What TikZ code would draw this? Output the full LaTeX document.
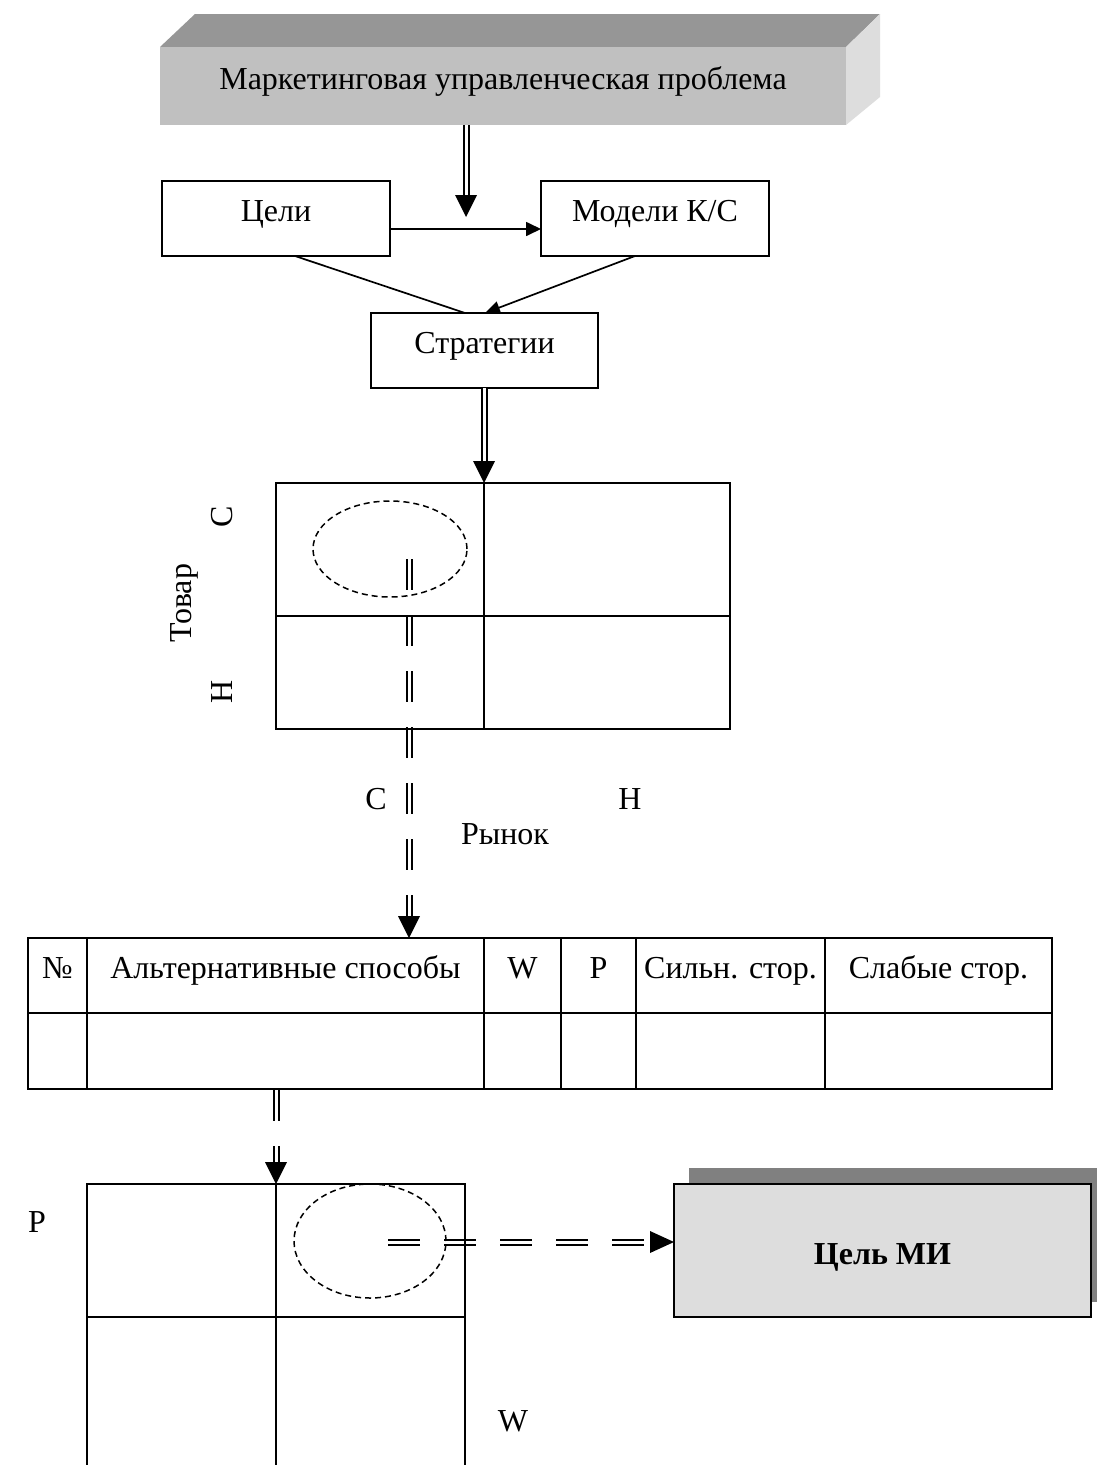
\documentclass[tikz,border=0pt]{standalone}
\usepackage{fontspec}
\setmainfont{Liberation Serif}
\usetikzlibrary{arrows.meta,calc,shapes.geometric}
\definecolor{topface}{HTML}{969696}
\definecolor{frontface}{HTML}{C0C0C0}
\definecolor{sideface}{HTML}{DDDDDD}
\definecolor{shadowc}{HTML}{808080}
\newcommand\mydowntip[1]{\fill (#1) -- ++(-11,-22) -- ++(22,0) -- cycle;}
\newcommand\myrighttip[1]{\fill (#1) -- ++(-24,-11) -- ++(0,22) -- cycle;}
\begin{document}
\begin{tikzpicture}[x=1pt,y=-1pt,
  txt/.style={font=\fontsize{32}{38}\selectfont},
  cell/.style={draw,line width=1.7pt,inner sep=0pt,outer sep=0pt,anchor=north west,txt,text height=16pt,text depth=10pt},
  dbl/.style={double,double distance=3pt,line width=2pt},
  dbldash/.style={dbl,dash pattern=on 31pt off 25pt},
  dbldashh/.style={dbl,dash pattern=on 32pt off 24pt},
  oval/.style={ellipse,draw,line width=1.5pt,dash pattern=on 6pt off 4pt,inner sep=0pt},
  thin/.style={line width=1.7pt}]
\useasboundingbox (0,0) rectangle (1097,1465);
\fill[white] (0,0) rectangle (1097,1465);

% connector start/end coordinates
\coordinate (t1) at (466,217);
\coordinate (t2) at (484,483);
\coordinate (s1) at (409,559);
\coordinate (t3) at (409,938);
\coordinate (s3) at (276,1090);
\coordinate (t4) at (276,1184);
\coordinate (s2) at (388,1242);
\coordinate (t5) at (674,1242);

% dashed double arrows drawn first (borders cross over them)
\draw[dbldash] (s1) -- ($(t3)+(0,-21)$);
\mydowntip{t3}
\draw[dbldash] (s3) -- ($(t4)+(0,-21)$);
\mydowntip{t4}
\draw[dbldashh] (s2) -- ($(t5)+(-22,0)$);

% top 3D box
\fill[topface] (160,47) -- (195,14) -- (880,14) -- (846,47) -- cycle;
\fill[sideface] (846,47) -- (880,14) -- (880,97) -- (846,125) -- cycle;
\node[fill=frontface,inner sep=0pt,outer sep=0pt,anchor=north west,minimum width=686pt,minimum height=78pt,txt,text height=16pt,text depth=10pt] (prob) at (160,47) {Маркетинговая управленческая проблема};

% goals, models, strategies
\node[cell,minimum width=228pt,minimum height=75pt] (celi) at (162,181) {Цели};
\node[cell,minimum width=228pt,minimum height=75pt] (model) at (541,181) {Модели К/С};
\node[cell,minimum width=227pt,minimum height=75pt] (strat) at (371,313) {Стратегии};

\draw[dbl] (prob.south -| t1) -- ($(t1)+(0,-21)$);
\mydowntip{t1}

\draw[thin,-{Triangle[length=15pt,width=14pt]}] (celi.east |- 0,229) -- (model.west |- 0,229);
\draw[thin] (295,256) -- (465,313);
\draw[thin,-{Triangle[length=15pt,width=13pt]}] (635,256) -- (485,313);

\draw[dbl] (strat.south -| t2) -- ($(t2)+(0,-21)$);
\mydowntip{t2}

% matrix 1
\node[cell,minimum width=208pt,minimum height=133pt] (m1a) at (276,483) {};
\node[cell,minimum width=246pt,minimum height=133pt] (m1b) at (484,483) {};
\node[cell,minimum width=208pt,minimum height=113pt] (m1c) at (276,616) {};
\node[cell,minimum width=246pt,minimum height=113pt] (m1d) at (484,616) {};

\node[oval,minimum width=154pt,minimum height=96pt] (e1) at (390,549) {};

\node[txt,rotate=90] (lc1) at (222,517) {С};
\node[txt,rotate=90] (lt) at (184,603) {Товар};
\node[txt,rotate=90] (lh1) at (222,692) {Н};
\node[txt] (lc2) at (376,799) {С};
\node[txt] (lh2) at (630,799) {Н};
\node[txt] (lr) at (505,834) {Рынок};

% table
\node[cell,minimum width=59pt,minimum height=75pt] (h1) at (28,938) {№};
\node[cell,minimum width=397pt,minimum height=75pt] (h2) at (87,938) {Альтернативные способы};
\node[cell,minimum width=77pt,minimum height=75pt] (h3) at (484,938) {W};
\node[cell,minimum width=75pt,minimum height=75pt] (h4) at (561,938) {P};
\node[cell,minimum width=189pt,minimum height=75pt] (h5) at (636,938) {Сильн. стор.};
\node[cell,minimum width=227pt,minimum height=75pt] (h6) at (825,938) {Слабые стор.};
\node[cell,minimum width=59pt,minimum height=76pt] (r1) at (28,1013) {};
\node[cell,minimum width=397pt,minimum height=76pt] (r2) at (87,1013) {};
\node[cell,minimum width=77pt,minimum height=76pt] (r3) at (484,1013) {};
\node[cell,minimum width=75pt,minimum height=76pt] (r4) at (561,1013) {};
\node[cell,minimum width=189pt,minimum height=76pt] (r5) at (636,1013) {};
\node[cell,minimum width=227pt,minimum height=76pt] (r6) at (825,1013) {};

% matrix 2
\node[cell,minimum width=189pt,minimum height=133pt] (m2a) at (87,1184) {};
\node[cell,minimum width=189pt,minimum height=133pt] (m2b) at (276,1184) {};
\draw[thin] (m2a.south west) -- ++(0,160);
\draw[thin] (m2a.south east) -- ++(0,160);
\draw[thin] (m2b.south east) -- ++(0,160);

\node[oval,minimum width=152pt,minimum height=114pt] (e2) at (370,1241) {};

\node[txt] (lp) at (37,1222) {P};
\node[txt] (lw) at (513,1421) {W};

% goal box
\fill[shadowc] (689,1168) rectangle (1097,1302);
\node[cell,fill=sideface,minimum width=417pt,minimum height=133pt,font=\fontsize{32}{38}\selectfont\bfseries,text height=30pt,text depth=3pt] (goal) at (674,1184) {Цель МИ};
\myrighttip{t5}
\end{tikzpicture}
\end{document}
